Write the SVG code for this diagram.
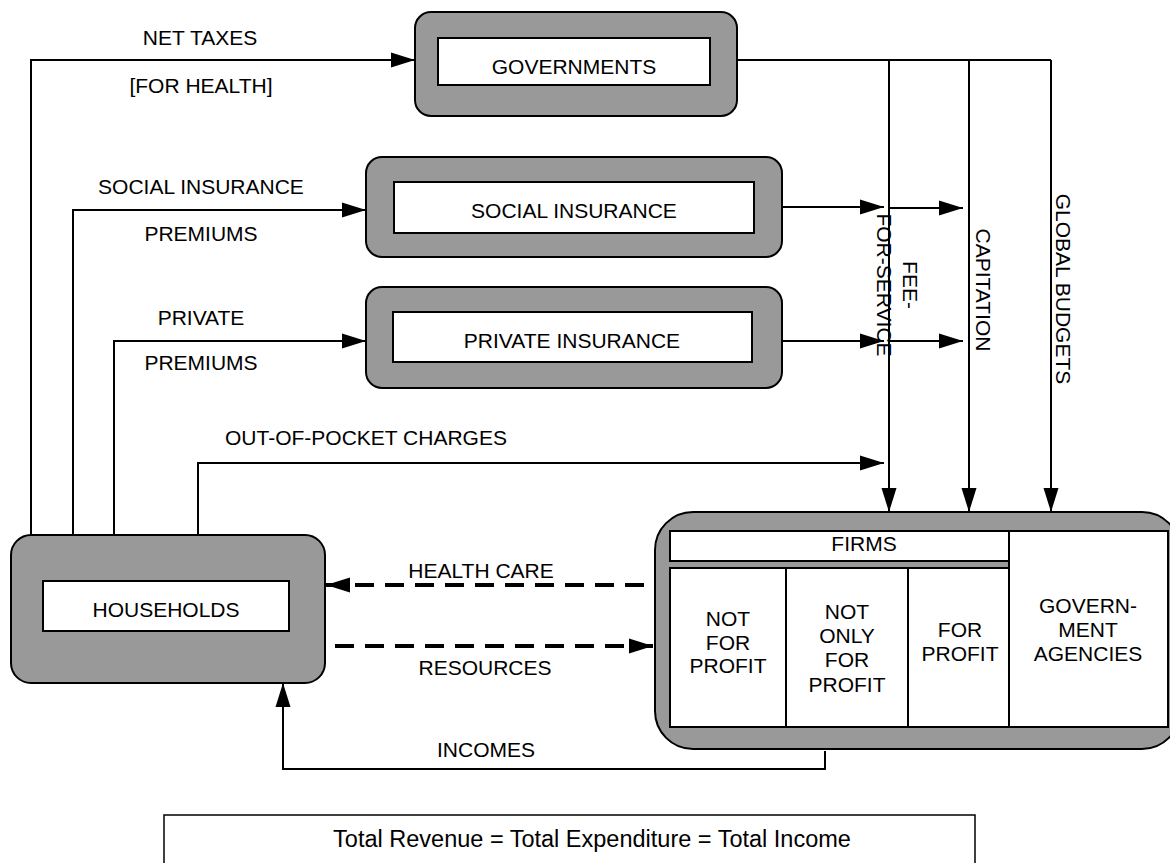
<svg xmlns="http://www.w3.org/2000/svg" width="1170" height="863" viewBox="0 0 1170 863">
<defs>
<style>
text{font-family:"Liberation Sans",Arial,sans-serif;font-size:21px;fill:#000;text-anchor:middle}
.outer{fill:#999;stroke:#000;stroke-width:2}
.inner{fill:#fff;stroke:#000;stroke-width:2}
.ln{fill:none;stroke:#000;stroke-width:2}
.arr{fill:none;stroke:#000;stroke-width:2;marker-end:url(#ah)}
.dash{fill:none;stroke:#000;stroke-width:4;stroke-dasharray:19 11;marker-end:url(#ah)}
</style>
<marker id="ah" markerUnits="userSpaceOnUse" markerWidth="24" markerHeight="16" refX="24" refY="8" orient="auto">
<path d="M0,0.5 L24,8 L0,15.5 z" fill="#000"/>
</marker>
</defs>
<rect width="1170" height="863" fill="#fff"/>

<g id="connectors">
<polyline class="arr" points="31,535 31,60 415,60"/>
<polyline class="arr" points="73,535 73,210 366,210"/>
<polyline class="arr" points="114,535 114,341 366,341"/>
<polyline class="arr" points="198,537 198,463 884,463"/>
<polyline class="ln" points="737,60 1051,60"/>
<line class="arr" x1="889" y1="60" x2="889" y2="512"/>
<line class="arr" x1="969" y1="60" x2="969" y2="512"/>
<line class="arr" x1="1051" y1="60" x2="1051" y2="512"/>
<line class="arr" x1="782" y1="207" x2="884" y2="207"/>
<line class="arr" x1="889" y1="208" x2="963" y2="208"/>
<line class="arr" x1="782" y1="341" x2="884" y2="341"/>
<line class="arr" x1="889" y1="341" x2="963" y2="341"/>
<line class="dash" x1="644" y1="585" x2="326" y2="585"/>
<line class="dash" x1="335" y1="646" x2="653" y2="646"/>
<polyline class="arr" points="825,751 825,769 283,769 283,683"/>
</g>

<g id="labels">
<text x="200" y="45">NET TAXES</text>
<text x="201" y="93">[FOR HEALTH]</text>
<text x="201" y="194">SOCIAL INSURANCE</text>
<text x="201" y="241">PREMIUMS</text>
<text x="201" y="325">PRIVATE</text>
<text x="201" y="370">PREMIUMS</text>
<text x="366" y="445">OUT-OF-POCKET CHARGES</text>
<text x="481" y="578">HEALTH CARE</text>
<text x="485" y="675">RESOURCES</text>
<text x="486" y="757">INCOMES</text>
<text transform="translate(903,285) rotate(90)">FEE-</text>
<text transform="translate(877,285) rotate(90)">FOR-SERVICE</text>
<text transform="translate(976,290) rotate(90)">CAPITATION</text>
<text transform="translate(1056,289) rotate(90)">GLOBAL BUDGETS</text>
</g>

<g id="governments">
<rect class="outer" x="415" y="12" width="322" height="104" rx="16"/>
<rect class="inner" x="438" y="38" width="272" height="47"/>
<text x="574" y="74">GOVERNMENTS</text>
</g>

<g id="social-insurance">
<rect class="outer" x="366" y="157" width="416" height="100" rx="16"/>
<rect class="inner" x="394" y="182" width="360" height="51"/>
<text x="574" y="218">SOCIAL INSURANCE</text>
</g>

<g id="private-insurance">
<rect class="outer" x="366" y="287" width="416" height="101" rx="16"/>
<rect class="inner" x="393" y="312" width="359" height="50"/>
<text x="572" y="348">PRIVATE INSURANCE</text>
</g>

<g id="households">
<rect class="outer" x="11" y="535" width="314" height="148" rx="20"/>
<rect class="inner" x="43" y="581" width="246" height="50"/>
<text x="166" y="617">HOUSEHOLDS</text>
</g>

<g id="providers">
<rect class="outer" x="655" y="512" width="525" height="237" rx="38"/>
<rect class="inner" x="670" y="531" width="339" height="30"/>
<text x="864" y="551">FIRMS</text>
<rect class="inner" x="1009" y="531" width="159" height="196"/>
<rect class="inner" x="670" y="568" width="116" height="159"/>
<rect class="inner" x="786" y="568" width="122" height="159"/>
<rect class="inner" x="908" y="568" width="101" height="159"/>
<text x="728" y="626">NOT</text>
<text x="728" y="650">FOR</text>
<text x="728" y="673">PROFIT</text>
<text x="847" y="619">NOT</text>
<text x="847" y="643">ONLY</text>
<text x="847" y="667">FOR</text>
<text x="847" y="692">PROFIT</text>
<text x="960" y="637">FOR</text>
<text x="960" y="661">PROFIT</text>
<text x="1088" y="613">GOVERN-</text>
<text x="1088" y="637">MENT</text>
<text x="1088" y="661">AGENCIES</text>
</g>

<g id="identity">
<rect x="164" y="815" width="811" height="60" fill="#fff" stroke="#000" stroke-width="1.5"/>
<text x="592" y="847" style="font-size:23.5px">Total Revenue = Total Expenditure = Total Income</text>
</g>
</svg>
